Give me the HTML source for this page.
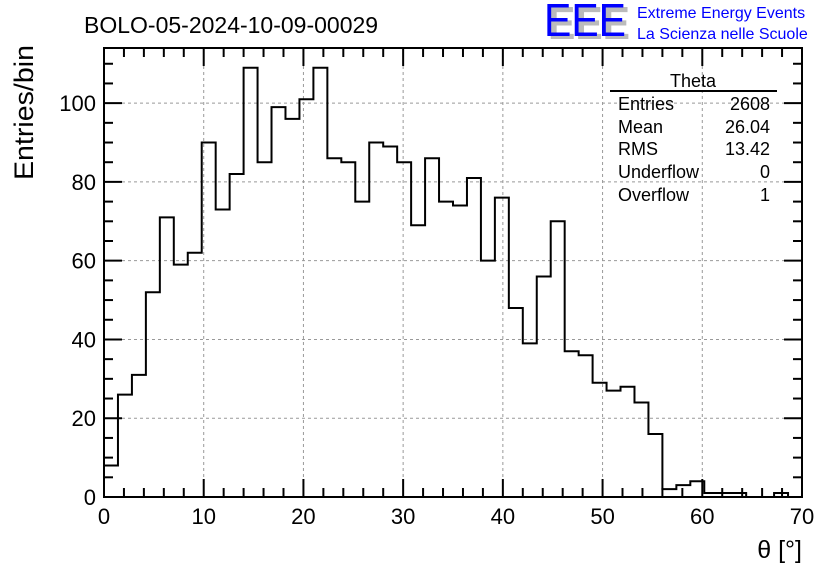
<!DOCTYPE html>
<html><head><meta charset="utf-8"><style>
body{margin:0;background:#fff;}
svg text{font-family:"Liberation Sans",Arial,sans-serif;}
</style></head><body>
<svg id="chart" width="836" height="572" viewBox="0 0 836 572" xmlns="http://www.w3.org/2000/svg">
<rect width="836" height="572" fill="#fff"/>
<g id="grid"></g>
<g id="ticks"></g>
<path id="hist" fill="none" stroke="#000" stroke-width="2"/>
<rect x="104" y="48" width="698" height="449" fill="none" stroke="#000" stroke-width="2"/>
<g id="labels"></g>
<text x="84" y="33" font-size="23">BOLO-05-2024-10-09-00029</text>
<text transform="translate(33,180) rotate(-90)" font-size="27" textLength="135" lengthAdjust="spacingAndGlyphs">Entries/bin</text>
<text x="802" y="558" font-size="25" text-anchor="end">θ [°]</text>
<g>
<text x="548" y="39" font-size="46" fill="#bbb" font-weight="bold" textLength="82" lengthAdjust="spacingAndGlyphs">EEE</text>
<text x="544" y="36" font-size="46" fill="#0000ff" textLength="82" lengthAdjust="spacingAndGlyphs">EEE</text>
<text x="637" y="18" font-size="16" fill="#0000ff">Extreme Energy Events</text>
<text x="637" y="39" font-size="16" fill="#0000ff">La Scienza nelle Scuole</text>
</g>
<g font-size="18">
<text x="693" y="87" text-anchor="middle">Theta</text>
<line x1="610" y1="91" x2="777" y2="91" stroke="#000" stroke-width="2"/>
<text x="618" y="110">Entries</text><text x="770" y="110" text-anchor="end">2608</text>
<text x="618" y="133">Mean</text><text x="770" y="133" text-anchor="end">26.04</text>
<text x="618" y="155">RMS</text><text x="770" y="155" text-anchor="end">13.42</text>
<text x="618" y="178">Underflow</text><text x="770" y="178" text-anchor="end">0</text>
<text x="618" y="201">Overflow</text><text x="770" y="201" text-anchor="end">1</text>
</g>
</svg>
<script>
const binCounts=[8,26,31,52,71,59,62,90,73,82,109,85,99,96,101,109,86,85,75,90,89,85,69,86,75,74,81,60,76,48,39,56,70,37,36,29,27,28,24,16,2,3,4,1,1,1,0,0,1,0];
const xTicks=[0,10,20,30,40,50,60,70];
const yTicks=[0,20,40,60,80,100];
const xMin=0,xMax=70,yMin=0,yMax=114,binWidth=1.4;
const X0=104,X1=802,Y0=497,Y1=48;
const sx=v=>X0+(v-xMin)/(xMax-xMin)*(X1-X0);
const sy=v=>Y0-(v-yMin)/(yMax-yMin)*(Y0-Y1);
const NS="http://www.w3.org/2000/svg";
function mk(tag,attrs,parent){const e=document.createElementNS(NS,tag);for(const k in attrs)e.setAttribute(k,attrs[k]);parent.appendChild(e);return e;}
let d="M"+sx(0)+","+sy(0);
binCounts.forEach((c,i)=>{d+=" L"+sx(i*binWidth)+","+sy(c)+" L"+sx((i+1)*binWidth)+","+sy(c);});
d+=" L"+sx(binCounts.length*binWidth)+","+sy(0);
document.getElementById('hist').setAttribute('d',d);
const grid=document.getElementById('grid'),ticks=document.getElementById('ticks'),labels=document.getElementById('labels');
xTicks.forEach(t=>{
 const l=mk('line',{x1:sx(t),x2:sx(t),y1:Y1,y2:Y0,stroke:'#999','stroke-dasharray':'3,3'},grid);
 
 
 const tx=mk('text',{x:sx(t),y:524,'font-size':22,'text-anchor':'middle'},labels);tx.textContent=t;
 
 
});
yTicks.forEach(t=>{
 const l=mk('line',{x1:X0,x2:X1,y1:sy(t),y2:sy(t),stroke:'#999','stroke-dasharray':'3,3'},grid);
 
 
 const tx=mk('text',{x:96,y:sy(t)+8,'font-size':22,'text-anchor':'end'},labels);tx.textContent=t;
 
 
});
for(let v=0;v<=70;v+=2){const L=v%10===0?18:9;
 mk('line',{x1:sx(v),x2:sx(v),y1:Y0,y2:Y0-L,stroke:'#000','stroke-width':2},ticks);
 mk('line',{x1:sx(v),x2:sx(v),y1:Y1,y2:Y1+L,stroke:'#000','stroke-width':2},ticks);}
for(let v=0;v<=yMax;v+=5){const L=v%20===0?18:9;
 mk('line',{x1:X0,x2:X0+L,y1:sy(v),y2:sy(v),stroke:'#000','stroke-width':2},ticks);
 mk('line',{x1:X1,x2:X1-L,y1:sy(v),y2:sy(v),stroke:'#000','stroke-width':2},ticks);}
</script>
</body></html>
